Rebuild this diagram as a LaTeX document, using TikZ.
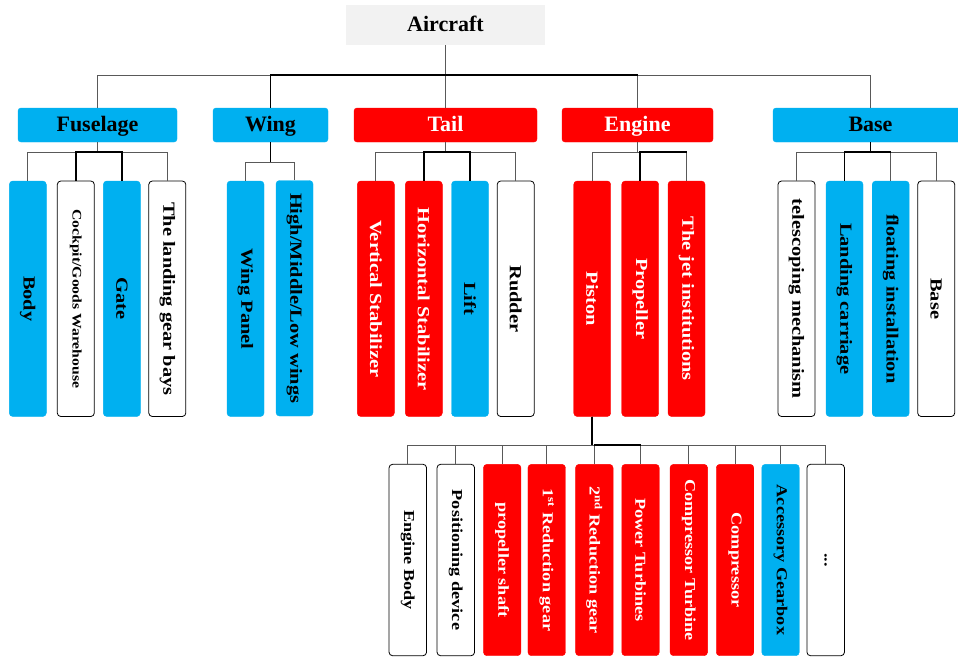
\documentclass[tikz,border=0pt]{standalone}
\usepackage{fontspec}
\setmainfont{Liberation Serif}
\newfontfamily\vfont[FakeStretch=1.2]{Liberation Serif}
\definecolor{cblue}{HTML}{00B0F0}
\definecolor{cred}{HTML}{FF0000}
\definecolor{cgray}{HTML}{F2F2F2}
\newcommand\vt[1]{\rotatebox{-90}{#1}}
\begin{document}
\begin{tikzpicture}[x=1pt,y=-1pt,
  conn/.style={draw=black!65,line width=0.9pt},
  connb/.style={draw=black,line width=1.5pt},
  rootbox/.style={fill=cgray,minimum width=199pt,minimum height=40pt,inner sep=0pt,text height=17.5pt,text depth=4pt,font=\fontsize{22}{24}\selectfont\bfseries},
  lvtwo/.style={rounded corners=3pt,minimum width=#1,minimum height=34pt,inner sep=0pt,text height=17pt,text depth=4.5pt,font=\fontsize{22}{24}\selectfont\bfseries},
  tall/.style={rounded corners=3.5pt,minimum width=37pt,minimum height=235.5pt,inner sep=0pt,font=\vfont\fontsize{17}{19}\selectfont\bfseries},
  low/.style={rounded corners=3.5pt,minimum width=37.5pt,minimum height=191.4pt,inner sep=0pt,font=\vfont\fontsize{15.2}{17}\selectfont\bfseries},
  fb/.style={fill=cblue,draw=cblue},
  fr/.style={fill=cred,draw=cred,text=white},
  fw/.style={fill=white,draw=black,line width=0.8pt}
]
\fill[white] (0,0) rectangle (958,657);
\clip (0,0) rectangle (958,657);

% root and level 2
\node[rootbox] (air) at (445.5,25) {Aircraft};
\node[lvtwo=159pt,fb] (fus) at (97.5,125) {Fuselage};
\node[lvtwo=115pt,fb] (wing) at (270.5,125) {Wing};
\node[lvtwo=183pt,fr] (tail) at (445.5,125) {Tail};
\node[lvtwo=151pt,fr] (eng) at (637.5,125) {Engine};
\node[lvtwo=195pt,fb] (base) at (870.5,125) {Base};

% level 3
\node[tall,fb] (body) at (27.8,298.75) {\vt{Body}};
\node[tall,fw,font=\vfont\fontsize{13.1}{15}\selectfont\bfseries] (cock) at (75.8,298.75) {\vt{Cockpit/Goods Warehouse}};
\node[tall,fb] (gate) at (121.8,298.75) {\vt{Gate}};
\node[tall,fw] (bays) at (167.3,298.75) {\vt{The landing gear bays}};
\node[tall,fb] (panel) at (245.5,298.75) {\vt{Wing Panel}};
\node[tall,fb] (hml) at (294.5,298.25) {\vt{High/Middle/Low wings}};
\node[tall,fr] (vs) at (375.8,298.75) {\vt{Vertical Stabilizer}};
\node[tall,fr] (hs) at (423.8,298.75) {\vt{Horizontal Stabilizer}};
\node[tall,fb] (lift) at (470,298.75) {\vt{Lift}};
\node[tall,fw] (rudder) at (515.7,298.75) {\vt{Rudder}};
\node[tall,fr] (piston) at (592.2,298.75) {\vt{Piston}};
\node[tall,fr] (prop) at (640.2,298.75) {\vt{Propeller}};
\node[tall,fr] (jet) at (686.5,298.75) {\vt{The jet institutions}};
\node[tall,fw] (tele) at (796.5,298.75) {\vt{telescoping mechanism}};
\node[tall,fb] (lc) at (844.5,298.75) {\vt{Landing carriage}};
\node[tall,fb] (fi) at (890.7,298.75) {\vt{floating installation}};
\node[tall,fw] (bs) at (936.2,298.75) {\vt{Base}};

% level 4
\node[low,fw] (eb) at (407.8,560) {\vt{Engine Body}};
\node[low,fw] (pd) at (455.8,560) {\vt{Positioning device}};
\node[low,fr] (ps) at (502.2,560) {\vt{propeller shaft}};
\node[low,fr] (r1) at (546.7,560) {\vt{1\textsuperscript{st} Reduction gear}};
\node[low,fr] (r2) at (594.3,560) {\vt{2\textsuperscript{nd} Reduction gear}};
\node[low,fr] (pt) at (640.5,560) {\vt{Power Turbines}};
\node[low,fr] (ct) at (688.8,560) {\vt{Compressor Turbine}};
\node[low,fr] (cp) at (735,560) {\vt{Compressor}};
\node[low,fb] (ag) at (780.5,560) {\vt{Accessory Gearbox}};
\node[low,fw] (dots) at (825.7,560) {\vt{...}};

% bus levels
\coordinate (b1) at (0,75);
\coordinate (b2) at (0,152);
\coordinate (b3) at (0,162);
\coordinate (b4) at (0,445);

% thin connectors
\foreach \c in {fus,wing,tail,eng,base}
  \draw[conn] (air.south) -- (air.south |- b1) -| (\c.north);
\foreach \c in {body,cock,gate,bays}
  \draw[conn] (fus.south) -- (fus.south |- b2) -| (\c.north);
\foreach \c in {panel,hml}
  \draw[conn] (wing.south) -- (wing.south |- b3) -| (\c.north);
\foreach \c in {vs,hs,lift,rudder}
  \draw[conn] (tail.south) -- (tail.south |- b2) -| (\c.north);
\foreach \c in {piston,prop,jet}
  \draw[conn] (eng.south) -- (eng.south |- b2) -| (\c.north);
\foreach \c in {tele,lc,fi,bs}
  \draw[conn] (base.south) -- (base.south |- b2) -| (\c.north);
\foreach \c in {eb,pd,ps,r1,r2,pt,ct,cp,ag,dots}
  \draw[conn] (piston.south) -- (piston.south |- b4) -| (\c.north);

% heavier segments
\draw[connb] (wing.north) -- (wing.north |- b1) -- (eng.north |- b1);
\draw[connb] (cock.north) -- (cock.north |- b2) -- (gate.north |- b2) -- (gate.north);
\draw[connb] (wing.south) -- (wing.south |- b3);
\draw[connb] (hs.north) -- (hs.north |- b2) -- (lift.north |- b2) -- (lift.north);
\draw[connb] (prop.north) -- (prop.north |- b2) -- (jet.north |- b2);
\draw[connb] (base.south) -- (base.south |- b2);
\draw[connb] (lc.north) -- (lc.north |- b2) -- (fi.north |- b2);
\draw[connb] (piston.south) -- (piston.south |- b4);
\draw[connb] (r2.north |- b4) -- (pt.north |- b4);
\end{tikzpicture}
\end{document}
